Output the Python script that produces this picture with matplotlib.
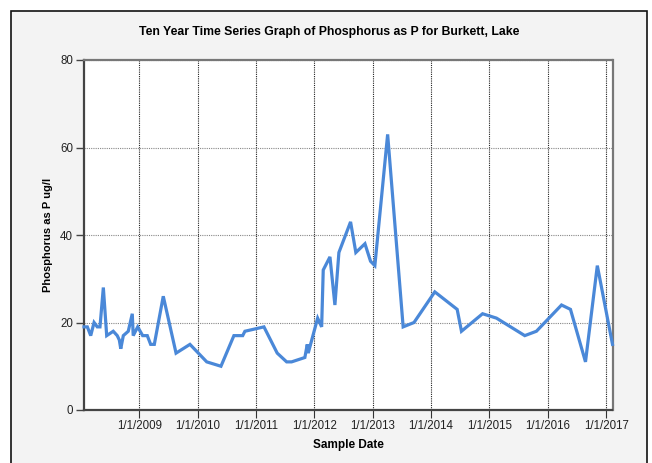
import matplotlib
matplotlib.use("Agg")
import matplotlib.pyplot as plt
from matplotlib.patches import Rectangle
import pandas as pd

plt.rcParams["font.family"] = ["Liberation Sans", "DejaVu Sans"]

sample_dates = [
    "2008-01-21", "2008-02-11", "2008-03-03", "2008-03-24", "2008-04-13",
    "2008-04-30", "2008-05-21", "2008-06-11", "2008-07-22", "2008-08-16",
    "2008-08-29", "2008-09-07", "2008-09-23", "2008-10-24", "2008-11-18",
    "2008-11-24", "2008-12-22", "2009-01-22", "2009-02-20", "2009-03-13",
    "2009-04-05", "2009-05-31", "2009-08-19", "2009-11-14", "2010-02-27",
    "2010-05-27", "2010-08-16", "2010-10-10", "2010-10-24", "2011-02-20",
    "2011-05-14", "2011-07-12", "2011-08-12", "2011-11-03", "2011-11-18",
    "2011-11-24", "2012-01-22", "2012-02-16", "2012-02-26", "2012-04-08",
    "2012-05-09", "2012-06-03", "2012-08-15", "2012-09-17", "2012-11-13",
    "2012-12-18", "2013-01-14", "2013-04-04", "2013-07-10", "2013-09-16",
    "2014-01-24", "2014-06-13", "2014-07-10", "2014-11-19", "2015-02-14",
    "2015-08-10", "2015-10-22", "2016-03-27", "2016-05-22", "2016-08-24",
    "2016-11-06", "2017-02-09",
]
phosphorus = [
    19, 19, 17, 20, 19,
    19, 28, 17, 18, 17,
    16, 14, 17, 18, 22,
    17, 19, 17, 17, 15,
    15, 26, 13, 15, 11,
    10, 17, 17, 18, 19,
    13, 11, 11, 12, 15,
    13, 21, 19, 32, 35,
    24, 36, 43, 36, 38,
    34, 33, 63, 19, 20,
    27, 23, 18, 22, 21,
    17, 18, 24, 23, 11,
    33, 15,
]
tick_years = list(range(2009, 2018))
y_ticks = [0, 20, 40, 60, 80]

dates = pd.to_datetime(sample_dates)
tick_dates = [pd.Timestamp(year=y, month=1, day=1) for y in tick_years]
tick_labels = [f"1/1/{y}" for y in tick_years]

fig = plt.figure(figsize=(6.52, 4.63), dpi=100, facecolor="white")
# grey panel with a thin border behind the chart
panel = Rectangle((11 / 652, -0.1), 636 / 652, 1.1 - 11 / 463,
                  transform=fig.transFigure, facecolor="#f3f3f3",
                  edgecolor="#111111", linewidth=1.2, zorder=-10)
fig.add_artist(panel)

ax = fig.add_axes([84 / 652, 1 - 410 / 463, 528.5 / 652, 350 / 463])
ax.set_facecolor("white")

ax.plot(dates, phosphorus, color="#4a88d8", linewidth=2.3, solid_joinstyle="miter",
        zorder=3, clip_on=False)

ax.set_xlim(dates[0], dates[-1])
ax.set_ylim(0, 80)
ax.set_xticks(tick_dates)
ax.set_xticklabels(tick_labels)
ax.set_yticks(y_ticks)

ax.grid(True, axis="x", linestyle=(0, (1, 1)), color="#222222", linewidth=0.8)
ax.grid(True, axis="y", linestyle=(0, (1, 1)), color="#888888", linewidth=0.8)

for side in ["left", "bottom"]:
    ax.spines[side].set_color("#444444")
    ax.spines[side].set_linewidth(1.6)
for side in ["top", "right"]:
    ax.spines[side].set_color("#777777")
    ax.spines[side].set_linewidth(1.6)

ax.tick_params(axis="y", length=6, width=1, color="#444444", labelsize=8.3,
               labelcolor="#222222", pad=2)
ax.tick_params(axis="x", length=6, width=0.8, color="#333333", labelsize=8.3,
               labelcolor="#222222", pad=1)

fig.text(329 / 652, 1 - 32 / 463,
         "Ten Year Time Series Graph of Phosphorus as P for Burkett, Lake",
         fontsize=8.8, fontweight="bold", ha="center", va="center")
ax.set_xlabel("Sample Date", fontsize=8.5, fontweight="bold", labelpad=5)
ax.set_ylabel("Phosphorus as P ug/l", fontsize=8, fontweight="bold", labelpad=5)

fig.savefig("out.png", dpi=100, facecolor=fig.get_facecolor())
